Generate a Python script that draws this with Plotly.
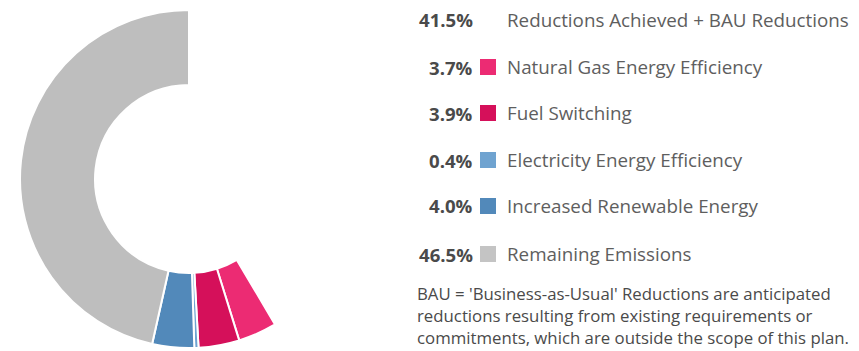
import plotly.graph_objects as go

# Share of baseline emissions by category
categories = [
    "Reductions Achieved + BAU Reductions",
    "Natural Gas Energy Efficiency",
    "Fuel Switching",
    "Electricity Energy Efficiency",
    "Increased Renewable Energy",
    "Remaining Emissions",
]
shares = [41.5, 3.7, 3.9, 0.4, 4.0, 46.5]
slice_colors = ["rgba(0,0,0,0)", "#EC2B73", "#D5105A", "#6FA3D0", "#5289BA", "#BEBEBE"]
swatch_colors = [None, "#EC2B73", "#D5105A", "#6FA3D0", "#5289BA", "#C4C4C4"]

footnote_lines = [
    "BAU = 'Business-as-Usual' Reductions are anticipated",
    "reductions resulting from existing requirements or",
    "commitments, which are outside the scope of this plan.",
]

W, H = 859, 351
FONT = "Open Sans"


def px(x):
    return x / W


def py(y):
    return 1 - y / H


# ring geometry in pixels
cx, cy, r_out = 189, 179, 169

fig = go.Figure(
    go.Pie(
        labels=categories,
        values=shares,
        sort=False,
        direction="clockwise",
        rotation=0,
        hole=0.556,
        marker=dict(colors=slice_colors, line=dict(color="white", width=2)),
        textinfo="none",
        hoverinfo="skip",
        showlegend=False,
        domain=dict(
            x=[px(cx - r_out), px(cx + r_out)],
            y=[py(cy + r_out), py(cy - r_out)],
        ),
    )
)

annotations = []
shapes = []
row_y = [20, 67, 113, 160, 206, 254]
for i, (cat, val) in enumerate(zip(categories, shares)):
    y = row_y[i]
    annotations.append(dict(
        x=px(475), y=py(y), xref="paper", yref="paper",
        xanchor="right", yanchor="middle", showarrow=False,
        text=f"<b>{val:.1f}%</b>",
        font=dict(family=FONT, size=18.6, color="#4A4A4A"),
    ))
    annotations.append(dict(
        x=px(505), y=py(y), xref="paper", yref="paper",
        xanchor="left", yanchor="middle", showarrow=False,
        text=cat,
        font=dict(family=FONT, size=18.8, color="#5E5E5E"),
    ))
    if swatch_colors[i]:
        shapes.append(dict(
            type="rect", xref="paper", yref="paper",
            x0=px(480), x1=px(496), y0=py(y + 8), y1=py(y - 8),
            fillcolor=swatch_colors[i], line=dict(width=0),
        ))

annotations.append(dict(
    x=px(415), y=0, xref="paper", yref="paper",
    xanchor="left", yanchor="bottom", align="left", showarrow=False,
    text="<br>".join(footnote_lines),
    font=dict(family=FONT, size=16.8, color="#4A4A4A"),
))

fig.update_layout(
    width=W, height=H,
    margin=dict(l=0, r=0, t=0, b=0),
    paper_bgcolor="white", plot_bgcolor="white",
    annotations=annotations, shapes=shapes,
)

fig.write_html("out.html")
